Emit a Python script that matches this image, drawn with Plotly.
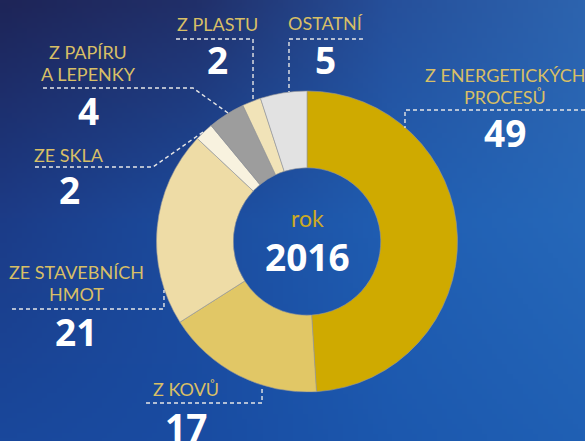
import base64
import struct
import zlib

import numpy as np
import plotly.graph_objects as go

W, H = 585, 441

# data
categories = ["Z ENERGETICKÝCH<br>PROCESŮ", "Z KOVŮ", "ZE STAVEBNÍCH<br>HMOT", "ZE SKLA",
              "Z PAPÍRU<br>A LEPENKY", "Z PLASTU", "OSTATNÍ"]
values = [49, 17, 21, 2, 4, 2, 5]
year = "2016"
year_caption = "rok"

colors = ["#CFAA00", "#E1C766", "#EEDCA6", "#F8F2DF", "#9D9D9D", "#F1E3B8", "#E2E2E2"]
LABEL_COL = "#D8BF66"
LINE_COL = "#E6E6E6"

# label layout (pixel coords: name center x, first line y, number y)
label_pos = [(505, 75, 132), (186, 389, 426), (76, 272, 331), (69, 155, 190),
             (88, 52, 110), (217, 24, 59), (325, 23, 59)]
# leader lines: polyline points in px
leaders = [
    [(585, 110), (405, 110), (405, 128)],
    [(146, 403), (262, 403), (262, 386)],
    [(12, 309), (164, 309), (164, 290)],
    [(35, 167), (153, 167), (203, 132)],
    [(43, 88), (193, 88), (228, 113)],
    [(176, 39), (253, 39), (253, 101)],
    [(363, 39), (289, 39), (289, 92)],
]


def px(x, y):
    return x / W, 1 - y / H


def background():
    # soft blue gradient standing in for the textured photo background
    ctrl = np.array([
        [(30, 37, 88), (33, 48, 106), (38, 80, 155), (45, 100, 175)],
        [(28, 60, 136), (28, 76, 158), (32, 94, 178), (38, 104, 185)],
        [(25, 72, 156), (25, 76, 162), (28, 88, 174), (32, 96, 180)],
    ], dtype=float)
    h, w = 88, 117
    ys = np.linspace(0, ctrl.shape[0] - 1, h)
    xs = np.linspace(0, ctrl.shape[1] - 1, w)
    tmp = np.stack([[np.interp(ys, np.arange(ctrl.shape[0]), ctrl[:, j, c])
                     for c in range(3)] for j in range(ctrl.shape[1])])  # cols, 3, h
    img = np.empty((h, w, 3))
    for i in range(h):
        for c in range(3):
            img[i, :, c] = np.interp(xs, np.arange(ctrl.shape[1]), tmp[:, c, i])
    img = img.astype(np.uint8)
    raw = b"".join(b"\x00" + row.tobytes() for row in img)

    def chunk(t, d):
        return struct.pack(">I", len(d)) + t + d + struct.pack(">I", zlib.crc32(t + d) & 0xffffffff)

    png = (b"\x89PNG\r\n\x1a\n" + chunk(b"IHDR", struct.pack(">IIBBBBB", w, h, 8, 2, 0, 0, 0))
           + chunk(b"IDAT", zlib.compress(raw)) + chunk(b"IEND", b""))
    return "data:image/png;base64," + base64.b64encode(png).decode()


cx, cy, R = 307, 241.5, 150.5
fig = go.Figure(go.Pie(
    labels=[c.replace("<br>", " ") for c in categories], values=values,
    marker=dict(colors=colors, line=dict(color="#999999", width=0.6)),
    hole=0.49, sort=False, direction="clockwise", rotation=0,
    textinfo="none", hoverinfo="label+value", showlegend=False,
    domain=dict(x=[(cx - R) / W, (cx + R) / W], y=[1 - (cy + R) / H, 1 - (cy - R) / H]),
))

ann = []
name_font = dict(family="Lato, sans-serif", size=18, color=LABEL_COL)
num_font = dict(family="Open Sans, sans-serif", size=37, color="white", weight="bold")
for cat, val, (x, y, ny) in zip(categories, values, label_pos):
    for k, line in enumerate(cat.split("<br>")):
        ax, ay = px(x, y + 22 * k)
        ann.append(dict(x=ax, y=ay, text=line, font=name_font))
    ax, ay = px(x, ny)
    ann.append(dict(x=ax, y=ay, text=str(val), font=num_font))

ax, ay = px(cx, 218)
ann.append(dict(x=ax, y=ay, text=year_caption,
                font=dict(family="Lato, sans-serif", size=23, color="#CCAA22")))
ax, ay = px(cx, 256)
ann.append(dict(x=ax, y=ay, text=year, font=dict(family="Open Sans, sans-serif", size=37,
                                                   color="white", weight="bold")))
for a in ann:
    a.update(xref="paper", yref="paper", showarrow=False, xanchor="center", yanchor="middle")

shapes = []
for pts in leaders:
    path = " ".join(("M" if i == 0 else "L") + f"{px(x, y)[0]:.4f},{px(x, y)[1]:.4f}"
                    for i, (x, y) in enumerate(pts))
    shapes.append(dict(type="path", path=path, xref="paper", yref="paper",
                       line=dict(color=LINE_COL, width=1.4, dash="4px,3px")))

fig.update_layout(
    width=W, height=H, margin=dict(l=0, r=0, t=0, b=0),
    paper_bgcolor="#1f3f88", plot_bgcolor="rgba(0,0,0,0)",
    annotations=ann, shapes=shapes,
    images=[dict(source=background(), xref="paper", yref="paper", x=0, y=1,
                 sizex=1, sizey=1, sizing="stretch", layer="below")],
)
fig.write_html("out.html", config=dict(displayModeBar=False),
               post_script="document.body.style.margin='0';"
                           "document.body.style.overflow='hidden';")
